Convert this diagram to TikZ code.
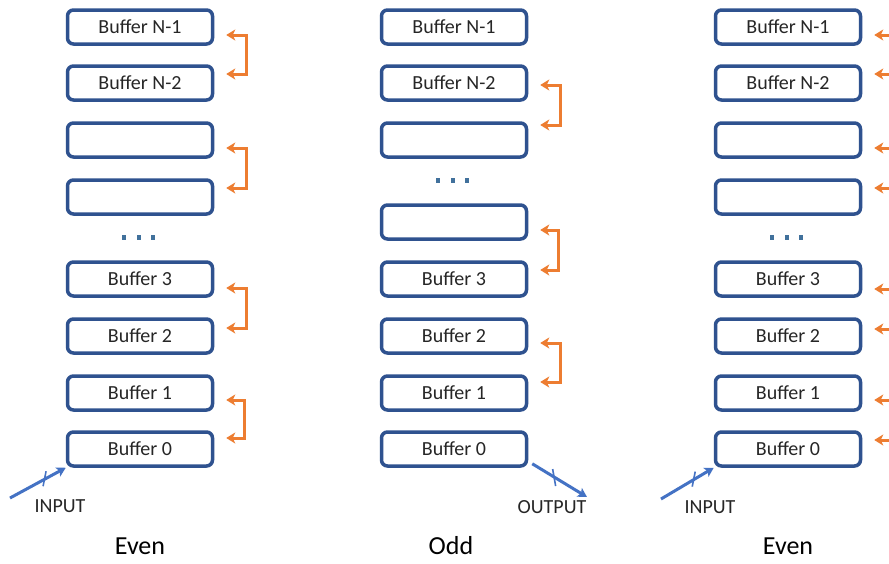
\documentclass[tikz,border=0pt]{standalone}
\usepackage{fontspec}
\setmainfont{Carlito}
\usetikzlibrary{arrows.meta,calc}

\definecolor{boxblue}{HTML}{2F528F}
\definecolor{swaporange}{HTML}{ED7D31}
\definecolor{ioblue}{HTML}{4472C4}
\definecolor{dotblue}{HTML}{41719C}
\definecolor{textgray}{HTML}{262626}

\tikzset{
  buf/.style={draw=boxblue, line width=3.5pt, fill=white, rounded corners=6pt,
    minimum width=145pt, minimum height=34pt, inner sep=0pt,
    text=textgray, font=\fontsize{20}{24}\selectfont},
  swap/.style={draw=swaporange, line width=3pt,
    {Stealth[length=9pt,width=11pt,inset=2.5pt]}-{Stealth[length=9pt,width=11pt,inset=2.5pt]}},
  io/.style={draw=ioblue, line width=3pt, -{Stealth[length=9pt,width=10pt,inset=2pt]}},
  tick/.style={draw=ioblue, line width=1.6pt},
  iolabel/.style={text=textgray, font=\fontsize{20}{24}\selectfont},
  caption/.style={text=black, font=\fontsize{26}{30}\selectfont},
  dotmark/.style={fill=dotblue, draw=none, minimum width=4pt, minimum height=5pt, inner sep=0pt}
}

% bracket joining two neighbouring buffers: #2,#3 node names, #4,#5 vertical offsets
\newcommand{\swapbracket}[5][20]{%
  \draw[swap] ($(#2.east)+(12,#4)$) -- ++(#1,0) |- ($(#3.east)+(12,#5)$);}

\begin{document}
\begin{tikzpicture}[x=1pt,y=-1pt]
\clip (0,0) rectangle (889,563);
\fill[white] (0,0) rectangle (889,563);

% ---------- left stack (even) ----------
\node[buf] (aN1) at (140,27) {Buffer N-1};
\node[buf] (aN2) at (140,83) {Buffer N-2};
\node[buf] (aX1) at (140,140) {};
\node[buf] (aX2) at (140,197) {};
\node[buf] (a3) at (140,279) {Buffer 3};
\node[buf] (a2) at (140,336) {Buffer 2};
\node[buf] (a1) at (140,393) {Buffer 1};
\node[buf] (a0) at (140,449) {Buffer 0};
\foreach \x [count=\i] in {124,139,153} \node[dotmark] (ad\i) at (\x,237) {};

\swapbracket{aN1}{aN2}{8}{-9}
\swapbracket{aX1}{aX2}{8}{-9}
\swapbracket{a3}{a2}{9}{-8}
\swapbracket[18]{a1}{a0}{7}{-11}

\coordinate (ainA) at (10,498);
\draw[io] (ainA) -- coordinate[pos=0.62] (atk) (a0.south west);
\draw[tick] ($(atk)+(1.5,-8)$) -- ($(atk)+(-1.5,7)$);
\node[iolabel] (ainL) at (60,506) {INPUT};
\node[caption] (aCap) at (140,546) {Even};

% ---------- middle stack (odd) ----------
\node[buf] (bN1) at (454,27) {Buffer N-1};
\node[buf] (bN2) at (454,83) {Buffer N-2};
\node[buf] (bX1) at (454,140) {};
\node[buf] (bX2) at (454,222) {};
\node[buf] (b3) at (454,279) {Buffer 3};
\node[buf] (b2) at (454,336) {Buffer 2};
\node[buf] (b1) at (454,393) {Buffer 1};
\node[buf] (b0) at (454,449) {Buffer 0};
\foreach \x [count=\i] in {438,453,467} \node[dotmark] (bd\i) at (\x,180) {};

\swapbracket{bN2}{bX1}{2}{-15}
\swapbracket[18]{bX2}{b3}{8}{-9}
\swapbracket{b2}{b1}{7}{-11}

\coordinate (boutE) at (587,497);
\draw[io] ($(b0.south east)+(4,-4)$) -- coordinate[pos=0.4] (btk) (boutE);
\draw[tick] ($(btk)+(-1.5,-8)$) -- ($(btk)+(1.5,9)$);
\node[iolabel] (boutL) at (552,507) {OUTPUT};
\node[caption] (bCap) at (451,546) {Odd};

% ---------- right stack (even) ----------
\node[buf] (cN1) at (788,27) {Buffer N-1};
\node[buf] (cN2) at (788,83) {Buffer N-2};
\node[buf] (cX1) at (788,140) {};
\node[buf] (cX2) at (788,197) {};
\node[buf] (c3) at (788,279) {Buffer 3};
\node[buf] (c2) at (788,336) {Buffer 2};
\node[buf] (c1) at (788,393) {Buffer 1};
\node[buf] (c0) at (788,449) {Buffer 0};
\foreach \x [count=\i] in {772,787,801} \node[dotmark] (cd\i) at (\x,237) {};

\swapbracket{cN1}{cN2}{8}{-9}
\swapbracket{cX1}{cX2}{8}{-9}
\swapbracket{c3}{c2}{10}{-7}
\swapbracket{c1}{c0}{7}{-9}

\coordinate (cinA) at (661,499);
\draw[io] (cinA) -- coordinate[pos=0.62] (ctk) (c0.south west);
\draw[tick] ($(ctk)+(1.5,-8)$) -- ($(ctk)+(-1.5,7)$);
\node[iolabel] (cinL) at (710,507) {INPUT};
\node[caption] (cCap) at (788,546) {Even};
\end{tikzpicture}
\end{document}
